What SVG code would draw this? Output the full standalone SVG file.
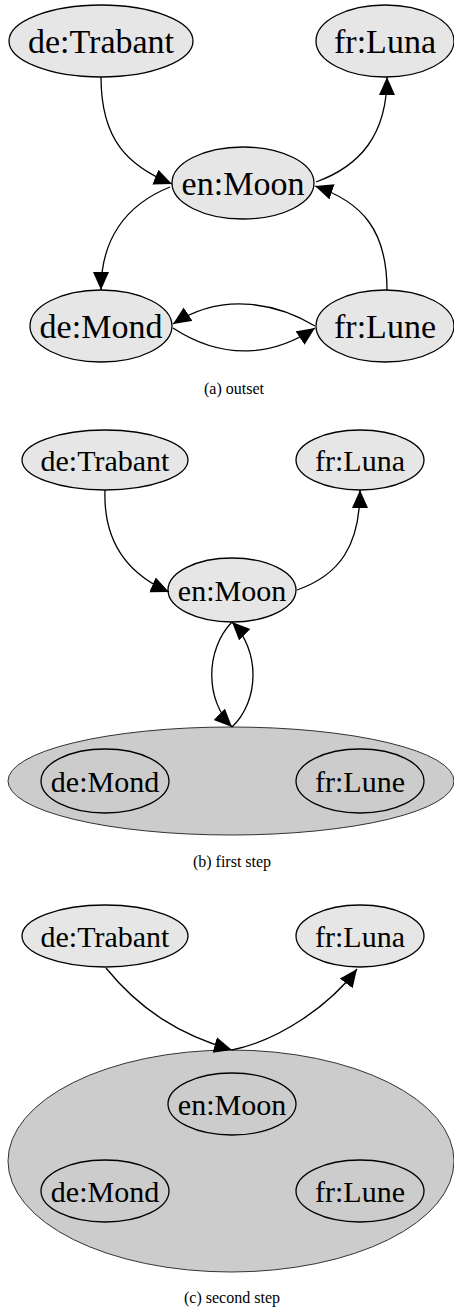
<svg xmlns="http://www.w3.org/2000/svg" width="454" height="1310" viewBox="0 0 454 1310">
<style>
.n{fill:#e6e6e6;stroke:#000;stroke-width:1.3}
.m{fill:none;stroke:#000;stroke-width:1.3}
.c{fill:#cccccc;stroke:#333;stroke-width:1}
.e{fill:none;stroke:#000;stroke-width:1.3;marker-end:url(#ah)}
text{font-family:'Liberation Serif','Times New Roman',Times,serif;text-anchor:middle;fill:#000}
.a{font-size:34px}
.b{font-size:30px}
.cap{font-size:16px}
</style>
<defs>
<marker id="ah" markerUnits="userSpaceOnUse" markerWidth="20" markerHeight="18" refX="18" refY="8" orient="auto">
<path d="M0,0 L18,8 L0,16 z" fill="#000"/>
</marker>
</defs>
<rect width="454" height="1310" fill="#fff"/>

<!-- Panel (a) -->
<g id="a-trabant"><ellipse class="n" cx="101" cy="41" rx="92" ry="36"/><text class="a" x="101" y="53">de:Trabant</text></g>
<g id="a-luna"><ellipse class="n" cx="385" cy="41" rx="69" ry="36"/><text class="a" x="385" y="53">fr:Luna</text></g>
<g id="a-moon"><ellipse class="n" cx="243" cy="183" rx="71" ry="36"/><text class="a" x="243" y="195">en:Moon</text></g>
<g id="a-mond"><ellipse class="n" cx="101" cy="326" rx="71" ry="36"/><text class="a" x="101" y="338">de:Mond</text></g>
<g id="a-lune"><ellipse class="n" cx="385" cy="326" rx="69" ry="36"/><text class="a" x="385" y="338">fr:Lune</text></g>
<g id="a-edges">
<path class="e" d="M101,77 C101,140 128,166 172,184"/>
<path class="e" d="M316,182 C360,166 387,135 387,77"/>
<path class="e" d="M387,290 C387,230 362,202 315,186"/>
<path class="e" d="M170,187 C125,205 101,240 101,290"/>
<path class="e" d="M315,326 C280,305 225,290 173,324"/>
<path class="e" d="M173,328 C225,362 275,355 315,328"/>
</g>
<text id="cap-a" class="cap" x="234" y="394">(a)  outset</text>

<!-- Panel (b) -->
<g id="b-trabant"><ellipse class="n" cx="105" cy="460" rx="83" ry="30"/><text class="b" x="105" y="471">de:Trabant</text></g>
<g id="b-luna"><ellipse class="n" cx="360" cy="460" rx="64" ry="30"/><text class="b" x="360" y="471">fr:Luna</text></g>
<g id="b-moon"><ellipse class="n" cx="232" cy="590" rx="64" ry="32"/><text class="b" x="232" y="601">en:Moon</text></g>
<g id="b-cluster">
<ellipse class="c" cx="231" cy="781" rx="223" ry="54"/>
<g id="b-mond"><ellipse class="m" cx="105" cy="781" rx="64" ry="32"/><text class="b" x="105" y="792">de:Mond</text></g>
<g id="b-lune"><ellipse class="m" cx="360" cy="781" rx="64" ry="32"/><text class="b" x="360" y="792">fr:Lune</text></g>
</g>
<g id="b-edges">
<path class="e" d="M105,490 C103,545 130,575 169,592"/>
<path class="e" d="M297,590 C340,575 360,545 360,490"/>
<path class="e" d="M232,622 C205,650 205,700 232,727"/>
<path class="e" d="M232,727 C260,700 260,650 232,622"/>
</g>
<text id="cap-b" class="cap" x="232" y="867">(b)  first step</text>

<!-- Panel (c) -->
<g id="c-trabant"><ellipse class="n" cx="105" cy="936" rx="83" ry="31"/><text class="b" x="105" y="947">de:Trabant</text></g>
<g id="c-luna"><ellipse class="n" cx="360" cy="936" rx="64" ry="31"/><text class="b" x="360" y="947">fr:Luna</text></g>
<g id="c-cluster">
<ellipse class="c" cx="231" cy="1161" rx="223" ry="111"/>
<g id="c-moon"><ellipse class="m" cx="232" cy="1104" rx="64" ry="31"/><text class="b" x="232" y="1115">en:Moon</text></g>
<g id="c-mond"><ellipse class="m" cx="105" cy="1191" rx="64" ry="31"/><text class="b" x="105" y="1202">de:Mond</text></g>
<g id="c-lune"><ellipse class="m" cx="360" cy="1191" rx="64" ry="31"/><text class="b" x="360" y="1202">fr:Lune</text></g>
</g>
<g id="c-edges">
<path class="e" d="M106,968 C140,1010 180,1035 232,1050"/>
<path class="e" d="M232,1050 C280,1040 330,1005 357,969"/>
</g>
<text id="cap-c" class="cap" x="232" y="1303">(c)  second step</text>
</svg>
